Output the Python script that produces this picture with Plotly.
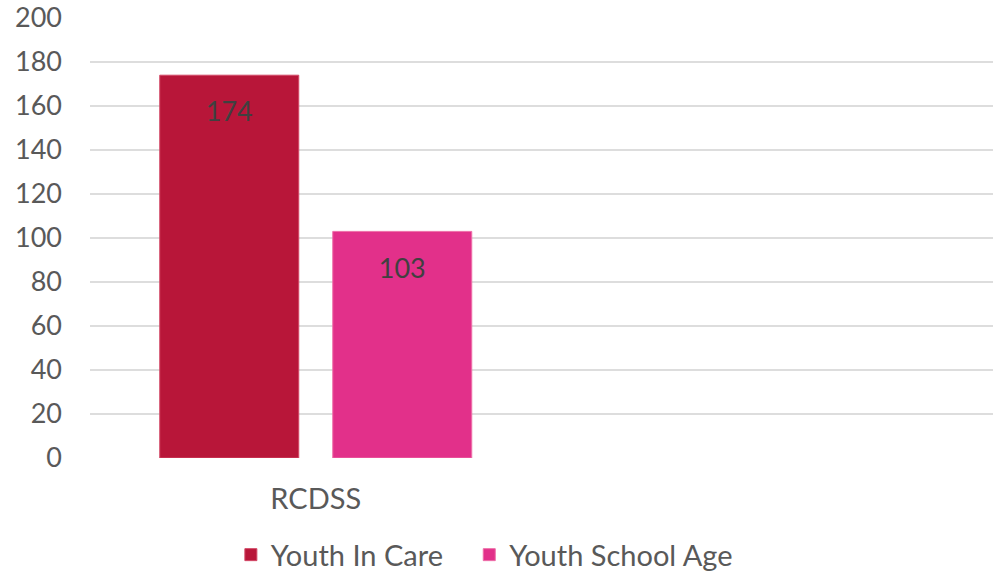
import plotly.graph_objects as go

categories = ["RCDSS"]
series_names = ["Youth In Care", "Youth School Age"]
youth_in_care = [174]
youth_school_age = [103]
y_ticks = [0, 20, 40, 60, 80, 100, 120, 140, 160, 180, 200]

FONT = "Lato"
bar_colors = ["#B81639", "#E2308A"]
edge_colors = ["#D24866", "#EE6FA8"]
legend_ids = ["legend", "legend2"]

fig = go.Figure()
for name, vals, col, edge, lg in zip(series_names, [youth_in_care, youth_school_age],
                                     bar_colors, edge_colors, legend_ids):
    fig.add_trace(go.Bar(
        x=categories, y=vals, name=name, legend=lg,
        marker=dict(color=col, line=dict(color=edge, width=1)),
        showlegend=True,
    ))
# data labels drawn as text traces aligned to the grouped bars
for name, vals in zip(series_names, [youth_in_care, youth_school_age]):
    fig.add_trace(go.Scatter(
        x=categories, y=vals, mode="markers+text", text=[str(v) for v in vals],
        textposition="bottom center",
        marker=dict(size=40, opacity=0),
        textfont=dict(family=FONT, size=27, color="#404040"),
        showlegend=False, hoverinfo="skip",
    ))

legend_style = dict(orientation="h", xanchor="left", y=-0.22, yanchor="middle",
                    font=dict(size=29, color="#595959"), bgcolor="rgba(0,0,0,0)")
fig.update_layout(
    width=1001, height=574,
    margin=dict(l=90, r=8, t=18, b=116, autoexpand=False),
    paper_bgcolor="white", plot_bgcolor="white",
    barmode="group", bargap=0.2337, bargroupgap=0.1965,
    scattermode="group", scattergap=0.2337,
    font=dict(family=FONT, size=27, color="#595959"),
    legend=dict(x=0.156, **legend_style),
    legend2=dict(x=0.42, **legend_style),
)
fig.update_xaxes(type="category", range=[-0.5, 1.5], showgrid=False, showline=False,
                 zeroline=False, ticks="", ticklabelstandoff=21,
                 tickfont=dict(size=29, color="#595959"))
fig.update_yaxes(range=[0, 200], tickvals=y_ticks, showgrid=True, gridcolor="#DDDDDD",
                 gridwidth=2, zeroline=False, showline=False, ticks="",
                 ticklabelstandoff=27, tickfont=dict(size=27, color="#595959"))

fig.write_html("out.html")
